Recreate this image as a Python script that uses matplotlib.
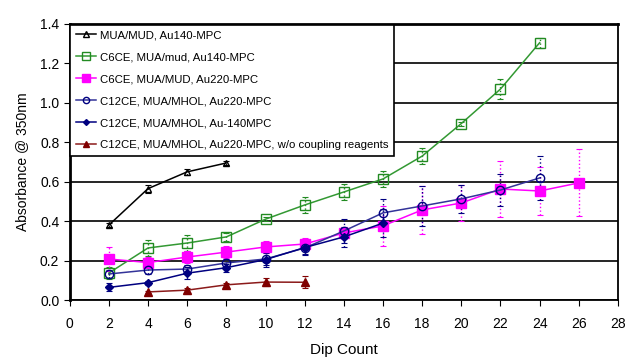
import numpy as np
import matplotlib.pyplot as plt
from matplotlib.lines import Line2D

plt.rcParams['font.family'] = ['Liberation Sans', 'DejaVu Sans']

# data
x_black = [2, 4, 6, 8]
y_black = [0.38, 0.565, 0.65, 0.695]
e_black = [0.01, 0.02, 0.015, 0.01]

x_green = [2, 4, 6, 8, 10, 12, 14, 16, 18, 20, 22, 24]
y_green = [0.137, 0.264, 0.289, 0.32, 0.41, 0.482, 0.548, 0.614, 0.73, 0.895, 1.07, 1.305]
e_green = [0.03, 0.04, 0.04, 0.02, 0.01, 0.04, 0.04, 0.04, 0.04, 0.01, 0.05, 0.025]

x_mag = [2, 4, 6, 8, 10, 12, 14, 16, 18, 20, 22, 24, 26]
y_mag = [0.208, 0.19, 0.218, 0.243, 0.269, 0.284, 0.34, 0.376, 0.457, 0.492, 0.563, 0.553, 0.594]
e_mag = [0.06, 0.03, 0.03, 0.03, 0.03, 0.03, 0.03, 0.10, 0.12, 0.09, 0.14, 0.12, 0.17]

x_circ = [2, 4, 6, 8, 10, 12, 14, 16, 18, 20, 22, 24]
y_circ = [0.132, 0.152, 0.157, 0.188, 0.208, 0.264, 0.35, 0.442, 0.477, 0.513, 0.558, 0.619]
e_circ = [0.02, 0.02, 0.02, 0.02, 0.03, 0.03, 0.06, 0.07, 0.10, 0.07, 0.08, 0.11]

x_dia = [2, 4, 6, 8, 10, 12, 14, 16]
y_dia = [0.064, 0.088, 0.136, 0.164, 0.205, 0.266, 0.32, 0.39]
e_dia = [0.02, 0.01, 0.03, 0.02, 0.04, 0.04, 0.05, 0.07]

x_red = [4, 6, 8, 10, 12]
y_red = [0.041, 0.05, 0.077, 0.091, 0.09]
e_red = [0.005, 0.01, 0.01, 0.02, 0.03]

fig = plt.figure(figsize=(6.28, 3.58), dpi=100)
ax = fig.add_axes([0.111, 0.162, 0.873, 0.771])

series = [
    (x_black, y_black, e_black, 'black', 'black', '^', 'none', 5, 'MUA/MUD, Au140-MPC'),
    (x_green, y_green, e_green, '#339933', '#228B22', 's', 'none', 7, 'C6CE, MUA/mud, Au140-MPC'),
    (x_mag, y_mag, e_mag, '#FF00FF', '#FF00FF', 's', '#FF00FF', 7, 'C6CE, MUA/MUD, Au220-MPC'),
    (x_circ, y_circ, e_circ, '#333399', '#000080', 'o', 'none', 6, 'C12CE, MUA/MHOL, Au220-MPC'),
    (x_dia, y_dia, e_dia, '#000080', '#000080', 'D', '#000080', 4, 'C12CE, MUA/MHOL, Au-140MPC'),
    (x_red, y_red, e_red, '#8B1A1A', '#800000', '^', '#800000', 6, 'C12CE, MUA/MHOL, Au220-MPC, w/o coupling reagents'),
]

handles = []
for xs, ys, es, lc, ec, m, fc, ms, lab in series:
    line, caps, bars = ax.errorbar(xs, ys, yerr=es, color=lc, marker=m, mfc=fc, mec=ec,
                                   ms=ms, lw=1.1, ecolor=ec, elinewidth=1, capsize=2.5,
                                   capthick=0.8, zorder=3)
    for b in bars:
        b.set_linestyle(':')
    handles.append(Line2D([], [], color=lc, marker=m, mfc=fc, mec=ec, ms=ms * 0.75,
                          lw=1.1, label=lab))

ax.set_xlim(0, 28)
ax.set_ylim(0, 1.4)
ax.set_xticks(np.arange(0, 29, 2))
ax.set_yticks(np.arange(0, 1.41, 0.2))
ax.set_yticklabels(['%.1f' % v for v in np.arange(0, 1.41, 0.2)])
ax.yaxis.grid(True, color='black', lw=1.2)
ax.set_axisbelow(True)
ax.tick_params(direction='out', length=4, labelsize=10)
ax.tick_params(axis='x', pad=8)
for s in ['left', 'top']:
    ax.spines[s].set_linewidth(2)
for s in ['right', 'bottom']:
    ax.spines[s].set_linewidth(1.3)

ax.set_xlabel('Dip Count', fontsize=11, labelpad=9)
ax.set_ylabel('Absorbance @ 350nm', fontsize=10, labelpad=8)

leg = ax.legend(handles=handles, loc='upper left', fontsize=8.2, frameon=True, fancybox=False,
                edgecolor='black', framealpha=1, borderaxespad=0.05,
                handlelength=1.8, labelspacing=1.05, borderpad=0.5, handletextpad=0.3)
leg.get_frame().set_linewidth(1.2)

fig.savefig('out.png', dpi=100)
